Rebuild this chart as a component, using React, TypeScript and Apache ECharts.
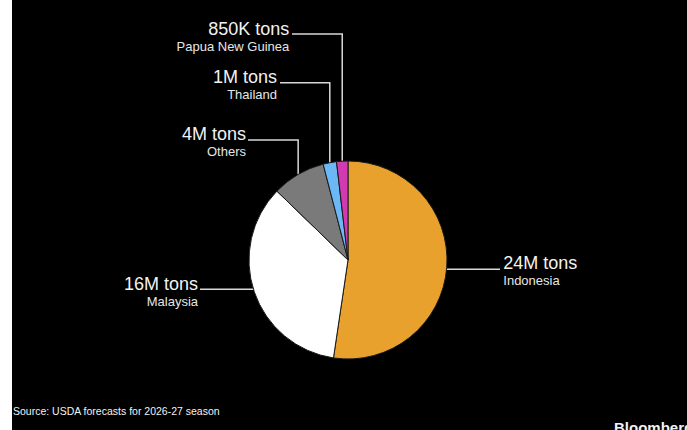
import React, { useEffect, useRef } from "react";
import * as echarts from "echarts";

// ---- data ----
const categories: string[] = ["Indonesia", "Malaysia", "Others", "Thailand", "Papua New Guinea"];
const valuesMillionTons: number[] = [24, 16, 4, 1, 0.85];
const sliceColors: string[] = ["#e9a12e", "#ffffff", "#7a7a7a", "#6bb8f5", "#d13ab0"];
const sourceText = "Source: USDA forecasts for 2026-27 season";
const brandText = "Bloomberg";

// ---- layout (positions/styles only) ----
const CENTER: [number, number] = [336, 260];
const RADIUS = 99;
type LabelPos = { x: number; y: number; align: "left" | "right"; lineY: number; endX: number; vertical: boolean };
const LABEL_POS: LabelPos[] = [
  { x: 491.3, y: 253, align: "left", lineY: 269.3, endX: 488, vertical: false },
  { x: 186, y: 273.7, align: "right", lineY: 289.3, endX: 188, vertical: false },
  { x: 234, y: 123.7, align: "right", lineY: 140, endX: 236, vertical: true },
  { x: 265, y: 66.7, align: "right", lineY: 82.7, endX: 268, vertical: true },
  { x: 277.3, y: 18.7, align: "right", lineY: 34, endX: 280, vertical: true },
];

function fmtTons(v: number): string {
  return v >= 1 ? `${v}M tons` : `${Math.round(v * 1000)}K tons`;
}

function fallbackEdge(i: number): [number, number] {
  const total = valuesMillionTons.reduce((a, b) => a + b, 0);
  let cum = 0;
  for (let k = 0; k < i; k++) cum += valuesMillionTons[k];
  const mid = ((cum + valuesMillionTons[i] / 2) / total) * Math.PI * 2;
  return [CENTER[0] + RADIUS * Math.sin(mid), CENTER[1] - RADIUS * Math.cos(mid)];
}

export default function App() {
  const ref = useRef<HTMLDivElement>(null);
  useEffect(() => {
    if (!ref.current) return;
    const chart = echarts.init(ref.current, undefined, { renderer: "svg" });
    const font = "'Liberation Sans', Arial, sans-serif";
    chart.setOption({
      animation: false,
      backgroundColor: "#000000",
      textStyle: { fontFamily: font },
      series: [
        {
          type: "pie",
          center: CENTER,
          radius: RADIUS,
          startAngle: 90,
          clockwise: true,
          avoidLabelOverlap: false,
          itemStyle: { borderColor: "#1a1a1a", borderWidth: 1 },
          data: categories.map((name, i) => ({
            name,
            value: valuesMillionTons[i],
            itemStyle: { color: sliceColors[i] },
          })),
          label: {
            show: true,
            position: "outside",
            formatter: (p: any) => `{v|${fmtTons(p.value)}}\n{n|${p.name}}`,
            rich: {
              v: { fontSize: 18, lineHeight: 20, color: "#f2f2f2", fontFamily: font },
              n: { fontSize: 13, lineHeight: 15, color: "#e6e6e6", fontFamily: font },
            },
          },
          labelLine: {
            show: true,
            lineStyle: { color: "#d8d8d8", width: 1.5 },
          },
          labelLayout: (params: any) => {
            const i = params.dataIndex;
            const L = LABEL_POS[i];
            const p0: [number, number] =
              params.labelLinePoints && params.labelLinePoints[0]
                ? [params.labelLinePoints[0][0], params.labelLinePoints[0][1]]
                : fallbackEdge(i);
            const pts = L.vertical
              ? [p0, [p0[0], L.lineY], [L.endX, L.lineY]]
              : [[p0[0], L.lineY], [(p0[0] + L.endX) / 2, L.lineY], [L.endX, L.lineY]];
            return {
              x: L.x,
              y: L.y,
              align: L.align,
              verticalAlign: "top",
              labelLinePoints: pts,
            };
          },
        },
      ],
      graphic: [
        {
          type: "text",
          x: 1,
          y: 411.3,
          style: {
            text: sourceText,
            fill: "#f2f2f2",
            font: `10.5px ${font}`,
            verticalAlign: "middle",
          },
        },
        {
          type: "text",
          x: 602,
          y: 427.6,
          style: {
            text: brandText,
            fill: "#f2f2f2",
            font: `bold 15px ${font}`,
            verticalAlign: "middle",
          },
        },
      ],
    });
    return () => chart.dispose();
  }, []);
  return (
    <div
      ref={ref}
      style={{ position: "absolute", left: 12, top: 0, width: 675, height: 430, background: "#000" }}
    />
  );
}
